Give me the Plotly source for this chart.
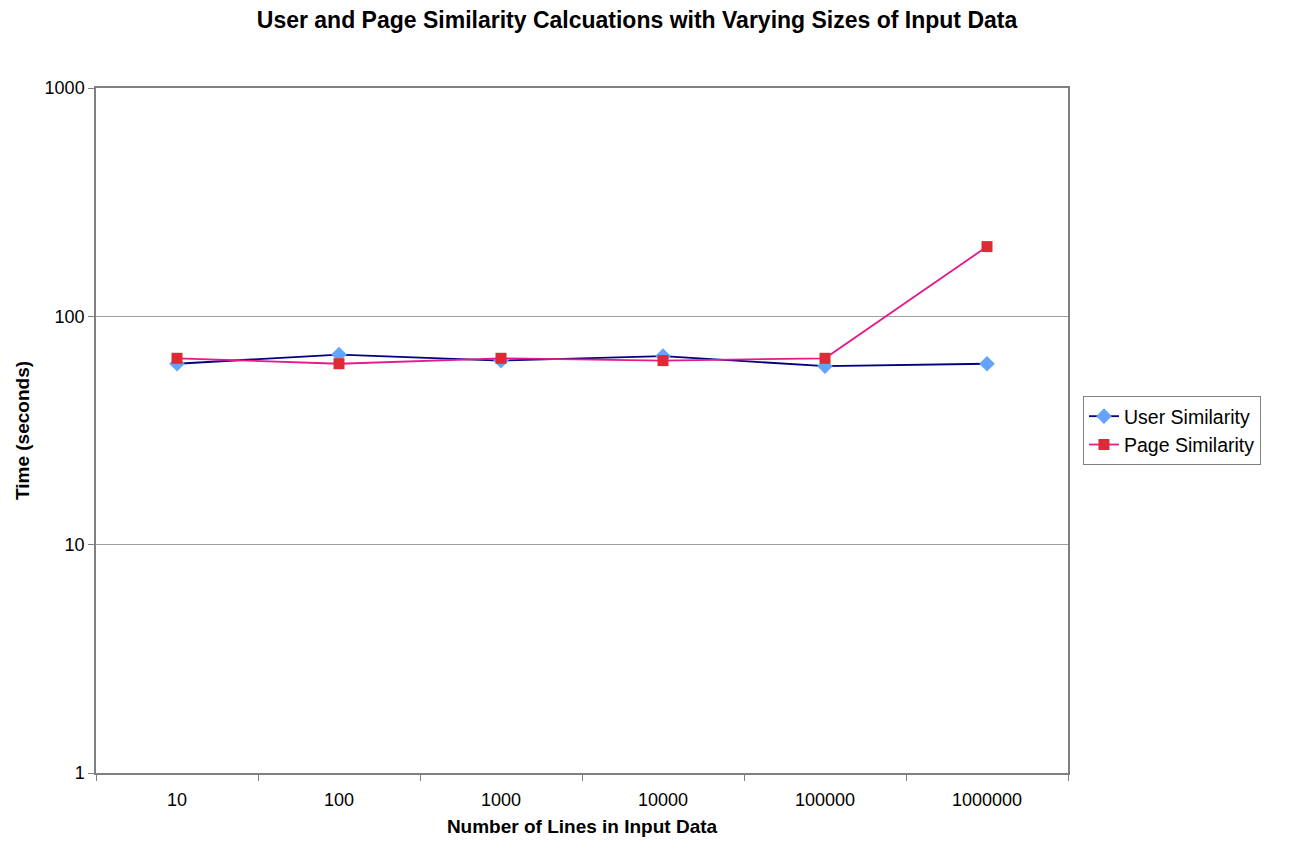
import plotly.graph_objects as go

categories = ["10", "100", "1000", "10000", "100000", "1000000"]
user_similarity = [62, 68, 64, 67, 60.5, 62]
page_similarity = [65.5, 62, 65.5, 64, 65.5, 202]
y_ticks = [1, 10, 100, 1000]

fig = go.Figure()
fig.add_trace(go.Scatter(
    x=categories, y=user_similarity, name="User Similarity",
    mode="lines+markers",
    line=dict(color="#000080", width=1.8),
    marker=dict(symbol="diamond", size=12, color="#66A3FF", line=dict(width=0)),
))
fig.add_trace(go.Scatter(
    x=categories, y=page_similarity, name="Page Similarity",
    mode="lines+markers",
    line=dict(color="#E6198C", width=1.8),
    marker=dict(symbol="square", size=11, color="#DD2A34", line=dict(width=0)),
))

font = "Liberation Sans, Arial, sans-serif"
fig.update_layout(
    width=1289, height=843,
    margin=dict(l=88, r=229, t=80, b=78),
    paper_bgcolor="white", plot_bgcolor="white",
    font=dict(family=font, size=18, color="black"),
    title=dict(text="<b>User and Page Similarity Calcuations with Varying Sizes of Input Data</b>",
               x=0.488, xanchor="center", xref="container",
               y=1 - 12 / 843, yanchor="middle", yref="container",
               font=dict(size=23, family=font)),
    legend=dict(x=1.0154, xanchor="left", y=0.50, yanchor="middle",
                bordercolor="#808080", borderwidth=1, bgcolor="white",
                font=dict(size=19.5, family=font), tracegroupgap=0),
    showlegend=True,
)
fig.update_xaxes(
    type="category", range=[-0.5, len(categories) - 0.5], autorange=False,
    tickson="boundaries", ticks="outside", ticklen=6, ticklabelstandoff=10,
    tickcolor="#808080", showline=True, linecolor="#808080", linewidth=1.5,
    mirror=True, showgrid=False, automargin=False,
    title=dict(text="<b>Number of Lines in Input Data</b>", font=dict(size=19, family=font), standoff=10),
    tickfont=dict(size=18),
)
fig.update_yaxes(
    type="log", range=[0, 3], tickvals=y_ticks, ticktext=[str(v) for v in y_ticks],
    ticks="outside", ticklen=6, tickcolor="#808080",
    showline=True, linecolor="#808080", linewidth=1.5, mirror=True,
    showgrid=True, gridcolor="#A0A0A0", gridwidth=1, automargin=False,
    title=dict(text="<b>Time (seconds)</b>", font=dict(size=19, family=font), standoff=10),
    tickfont=dict(size=18),
)
fig.write_html("out.html")
